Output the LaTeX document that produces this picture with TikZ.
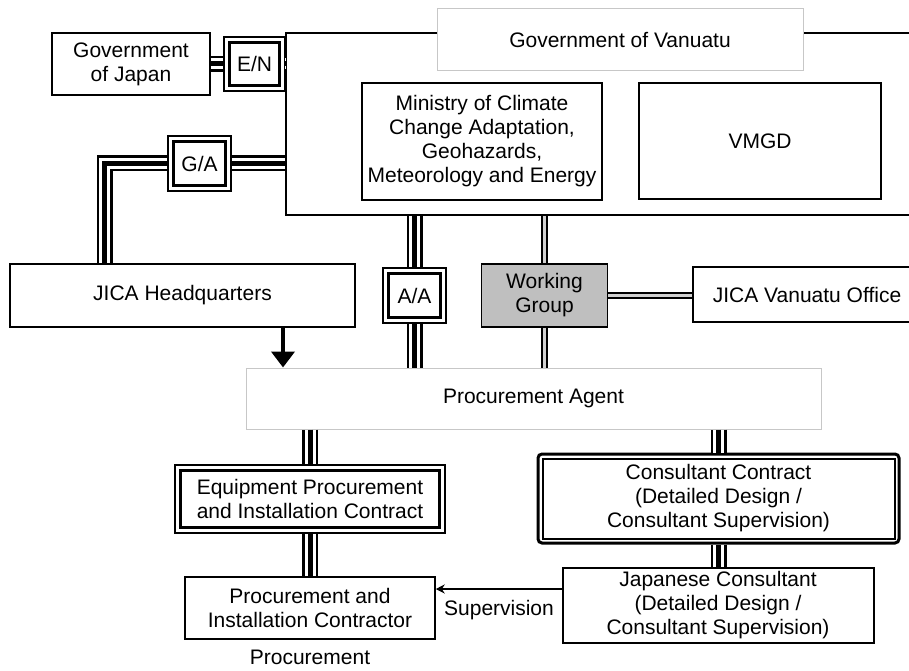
\documentclass[tikz,border=0pt]{standalone}
\usepackage{fontspec}
\setmainfont{Liberation Sans}
\usetikzlibrary{arrows.meta}
\definecolor{wggrey}{gray}{0.75}
\definecolor{rulegrey}{gray}{0.78}
\definecolor{coregrey}{gray}{0.82}
\tikzstyle{block} = [rectangle, draw=black, line width=1.5pt, fill=white, align=center, inner sep=0pt]
\tikzstyle{frame} = [rectangle, draw=black, line width=2pt, fill=white, align=center, inner sep=0pt]
\tikzstyle{lightblock} = [rectangle, draw=rulegrey, line width=1pt, fill=white, align=center, inner sep=0pt]
\tikzstyle{group} = [rectangle, draw=black, line width=1.5pt, fill=wggrey, align=center, inner sep=0pt]
\tikzstyle{paper} = [rectangle, draw=black, line width=1.5pt, fill=white, align=center, inner sep=0pt,
  path picture={\draw[line width=3pt] ([shift={(5.5pt,5.5pt)}]path picture bounding box.south west) rectangle ([shift={(-5.5pt,-5.5pt)}]path picture bounding box.north east);}]
\tikzstyle{contract_box} = [rectangle, rounded corners=4pt, draw=black, line width=3pt, fill=white, align=center, inner sep=0pt,
  path picture={\draw[sharp corners, line width=2pt] ([shift={(4.5pt,4.5pt)}]path picture bounding box.south west) rectangle ([shift={(-4.5pt,-4.5pt)}]path picture bounding box.north east);}]
\tikzstyle{treaty} = [line width=16pt, draw=black, postaction={draw=white, line width=11pt}, postaction={draw=black, line width=5pt}]
\tikzstyle{liaison} = [line width=7pt, draw=black, postaction={draw=coregrey, line width=3pt}]
\tikzstyle{arrow} = [line width=2pt, -{Stealth[length=9pt,width=9pt]}]
\tikzstyle{bigarrow} = [line width=4pt, -{Triangle[length=16pt,width=23pt]}]

\begin{document}
\begin{tikzpicture}[x=1pt, y=-1pt, font=\fontsize{21}{24}\selectfont]
		\useasboundingbox (0,0) rectangle (909,671);
		\node (govv) [frame, minimum width=669pt, minimum height=182pt] at (620.5,124) {};
		\node (govv_title) [lightblock, minimum width=366pt, minimum height=62pt] at (620,40) {Government of Vanuatu};
		\node (mccge) [frame, minimum width=240pt, minimum height=117pt] at (482,141.5) {Ministry of Climate\\Change Adaptation,\\Geohazards,\\Meteorology and Energy};
		\node (vmgd) [frame, minimum width=242pt, minimum height=116pt] at (760,141) {VMGD};
		\node (gov_japan) [block, minimum width=158pt, minimum height=62pt] at (131,64) {Government\\of Japan};
		\node (en) [paper, minimum width=61pt, minimum height=54pt] at (254.5,64) {E/N};
		\node (ga) [paper, minimum width=63pt, minimum height=55pt] at (199.5,163.5) {G/A};
		\node (jica_hq) [block, minimum width=345pt, minimum height=63pt] at (182.5,295.5) {JICA Headquarters};
		\node (aa) [paper, minimum width=63pt, minimum height=55pt] at (414.5,295.5) {A/A};
		\node (wg) [group, minimum width=126pt, minimum height=63pt] at (544.5,295.5) {Working\\Group};
		\node (jica_vo) [block, minimum width=228pt, minimum height=55pt] at (807,294.5) {JICA Vanuatu Office};
		\node (pa) [lightblock, minimum width=575pt, minimum height=61pt] at (533.5,398.5) {Procurement Agent};
		\node (equip) [paper, minimum width=270pt, minimum height=68pt] at (310,499) {Equipment Procurement\\and Installation Contract};
		\node (cc) [contract_box, minimum width=361pt, minimum height=89pt] at (718.5,498.5) {Consultant Contract\\(Detailed Design /\\Consultant Supervision)};
		\node (pic) [block, minimum width=250pt, minimum height=62pt] at (310,608) {Procurement and\\Installation Contractor};
		\node (jc) [frame, minimum width=311pt, minimum height=75pt] at (718,605.5) {Japanese Consultant\\(Detailed Design /\\Consultant Supervision)};
		\node (proc_label) at (310,657) {Procurement};
		\node (sup_label) at (499,610) {Supervision};
		\coordinate (ga_corner) at (104.5,163.5);
		\coordinate (hq_out) at (283,327);
		\coordinate (sup_from) at ([yshift=16.5pt]jc.west);

		\draw [treaty] (gov_japan) -- (en);
		\draw [treaty] (en.east) -- (en.east -| govv.west);
		\draw [treaty] (ga.east) -- (ga.east -| govv.west);
		\draw [treaty] (ga.west) -- (ga_corner) -- (ga_corner |- jica_hq.north);
		\draw [treaty] (aa.north |- govv.south) -- (aa.north);
		\draw [treaty] (aa.south) -- (aa.south |- pa.north);
		\draw [liaison] (wg.north |- govv.south) -- (wg.north);
		\draw [liaison] (wg.south) -- (wg.south |- pa.north);
		\draw [liaison] (wg.east) -- (jica_vo.west |- wg.east);
		\draw [treaty] (equip.north |- pa.south) -- (equip.north);
		\draw [treaty] (equip.south) -- (pic.north);
		\draw [treaty] (cc.north |- pa.south) -- (cc.north);
		\draw [treaty] (cc.south) -- (cc.south |- jc.north);
		\draw [bigarrow] (hq_out |- jica_hq.south) -- (hq_out |- pa.north);
		\draw [arrow] (sup_from) -- (sup_from -| pic.east);
\end{tikzpicture}
\end{document}
